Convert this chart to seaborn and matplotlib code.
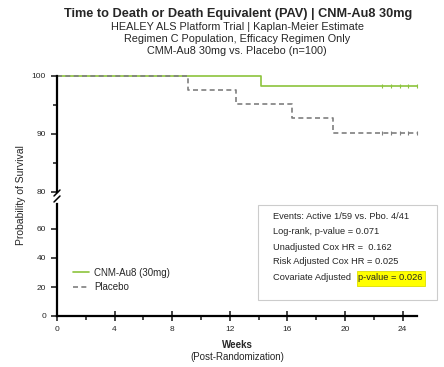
import numpy as np
import pandas as pd
import seaborn as sns
import matplotlib
matplotlib.use("Agg")
import matplotlib.pyplot as plt
from matplotlib.patches import Rectangle

# ---- data ----
cnm_weeks = [0, 14.2, 25]
cnm_surv = [100, 98.3, 98.3]
pbo_weeks = [0, 9.1, 12.4, 16.3, 19.2, 25]
pbo_surv = [100, 97.6, 95.1, 92.7, 90.2, 90.2]
cnm_censor = [22.6, 23.2, 23.8, 24.4, 25.0]
pbo_censor = [22.6, 23.2, 23.8, 24.4, 25.0]
x_ticks = [0, 4, 8, 12, 16, 20, 24]
top_yticks = [80, 90, 100]
bottom_yticks = [0, 20, 40, 60]
stats_lines = ["Events: Active 1/59 vs. Pbo. 4/41",
               "Log-rank, p-value = 0.071",
               "Unadjusted Cox HR =  0.162",
               "Risk Adjusted Cox HR = 0.025"]
stats_last_a = "Covariate Adjusted "
stats_last_b = "p-value = 0.026"

sns.set_style("white")
plt.rcParams["font.family"] = ["Liberation Sans", "DejaVu Sans"]

GREEN = "#8cc43c"
GRAY = "#7f7f7f"

df = pd.concat([
    pd.DataFrame({"week": cnm_weeks, "surv": cnm_surv, "arm": "CNM-Au8 (30mg)"}),
    pd.DataFrame({"week": pbo_weeks, "surv": pbo_surv, "arm": "Placebo"}),
])

fig = plt.figure(figsize=(4.44, 3.67), dpi=100)
W, H = 444, 367
x0, x1 = 57, 417
ax_top = fig.add_axes([x0 / W, 1 - 192 / H, (x1 - x0) / W, 116 / H])
ax_bot = fig.add_axes([x0 / W, 1 - 316 / H, (x1 - x0) / W, 116 / H])

for ax in (ax_top, ax_bot):
    sns.lineplot(data=df, x="week", y="surv", hue="arm", style="arm",
                 palette={"CNM-Au8 (30mg)": GREEN, "Placebo": GRAY},
                 dashes={"CNM-Au8 (30mg)": "", "Placebo": (3, 2)},
                 drawstyle="steps-post", linewidth=1.2, ax=ax,
                 legend=(ax is ax_bot), estimator=None)
    ax.plot(cnm_censor, [cnm_surv[-1]] * len(cnm_censor), ls="none", marker="|",
            color=GREEN, ms=3, mew=0.8)
    ax.plot(pbo_censor, [pbo_surv[-1]] * len(pbo_censor), ls="none", marker="|",
            color=GRAY, ms=3, mew=0.8)
    ax.set_xlim(0, 25)
    ax.set_xlabel("")
    ax.set_ylabel("")
    ax.set_facecolor("white")
    for s in ("top", "right"):
        ax.spines[s].set_visible(False)
    ax.spines["left"].set_linewidth(1.6)
    ax.spines["left"].set_color("black")
    ax.tick_params(axis="y", direction="out", length=4.5, width=1.2, labelsize=6,
                   left=True, pad=3.5)

ax_top.set_ylim(80, 100)
ax_top.set_yticks(top_yticks)
ax_top.set_yticks([85, 95], minor=True)
ax_top.tick_params(axis="y", which="minor", length=3, width=1.2, left=True)
ax_top.spines["bottom"].set_visible(False)
ax_top.set_xticks([])
for l in ax_top.get_lines():
    l.set_clip_on(False)

ax_bot.set_ylim(0, 80)
ax_bot.set_yticks(bottom_yticks)
ax_bot.spines["bottom"].set_linewidth(1.6)
ax_bot.spines["bottom"].set_color("black")
ax_bot.set_xticks(x_ticks)
ax_bot.set_xticks([2, 6, 10, 14, 18, 22], minor=True)
ax_bot.tick_params(axis="x", which="major", direction="inout", length=7, width=1.2,
                   labelsize=6, bottom=True, pad=3.5)
ax_bot.tick_params(axis="x", which="minor", direction="out", length=3, width=1.2,
                   bottom=True)
ax_bot.spines["left"].set_bounds(0, 77)

# break marks on the y axis
kw = dict(color="black", lw=1.1, clip_on=False, transform=fig.transFigure)
for yy in (193, 199):
    fig.add_artist(plt.Line2D([(x0 - 3) / W, (x0 + 3) / W],
                              [1 - (yy + 3) / H, 1 - (yy - 3) / H], **kw))

leg = ax_bot.legend(loc="lower left", bbox_to_anchor=(0.02, 0.13), frameon=False,
                    fontsize=7, handlelength=1.6, labelspacing=0.45, handletextpad=0.6)

# titles
fig.text(238 / W, 1 - 14 / H, "Time to Death or Death Equivalent (PAV) | CNM-Au8 30mg",
         ha="center", va="center", fontsize=9.2, fontweight="bold")
fig.text(237 / W, 1 - 27 / H, "HEALEY ALS Platform Trial | Kaplan-Meier Estimate",
         ha="center", va="center", fontsize=7.8)
fig.text(237 / W, 1 - 39 / H, "Regimen C Population, Efficacy Regimen Only",
         ha="center", va="center", fontsize=7.8)
fig.text(237 / W, 1 - 51 / H, "CMM-Au8 30mg vs. Placebo (n=100)",
         ha="center", va="center", fontsize=7.8)

fig.text(237 / W, 1 - 345 / H, "Weeks", ha="center", va="center",
         fontsize=7, fontweight="bold")
fig.text(237 / W, 1 - 357 / H, "(Post-Randomization)", ha="center", va="center",
         fontsize=7)
fig.text(21 / W, 1 - 195 / H, "Probability of Survival", rotation=90,
         ha="center", va="center", fontsize=7.5)

# stats box
fig.add_artist(Rectangle((258 / W, 1 - 300 / H), 179 / W, 95 / H,
                         transform=fig.transFigure, facecolor="white",
                         edgecolor="#cccccc", lw=0.8))
ys = [217, 232, 247, 262]
for t, yy in zip(stats_lines, ys):
    fig.text(273 / W, 1 - yy / H, t, ha="left", va="center", fontsize=6.7)
fig.add_artist(Rectangle((357 / W, 1 - 286 / H), 68 / W, 15 / H,
                         transform=fig.transFigure, facecolor="#ffff00",
                         edgecolor="#dddd00", lw=0.6))
fig.text(273 / W, 1 - 278 / H, stats_last_a, ha="left", va="center", fontsize=6.7)
fig.text(358 / W, 1 - 278 / H, stats_last_b, ha="left", va="center", fontsize=6.7)

fig.savefig("out.png", dpi=100, facecolor="white")
